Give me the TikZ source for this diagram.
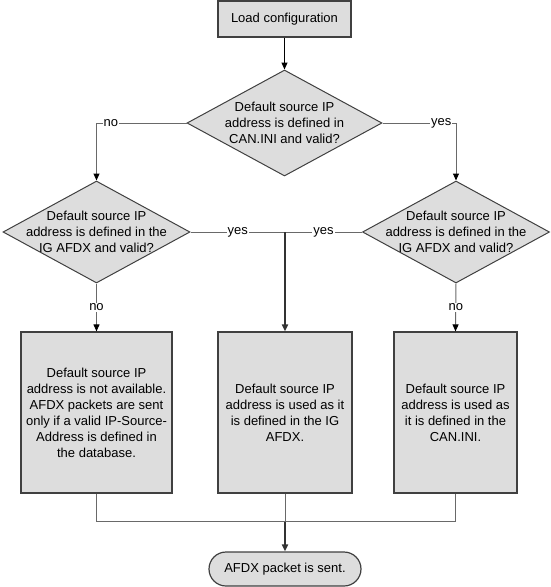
\documentclass[tikz,border=0pt]{standalone}
\usepackage{fontspec}
\setmainfont{Liberation Sans}
\usetikzlibrary{arrows.meta,shapes.geometric}

\definecolor{boxfill}{RGB}{221,221,221}
\definecolor{boxline}{RGB}{64,64,64}
\definecolor{wirecol}{RGB}{105,105,105}

\begin{document}
\begin{tikzpicture}[x=1pt, y=-1pt,
  every node/.style={font=\fontsize{13}{16}\selectfont},
  stepbox/.style={draw=boxline, line width=1.2pt, fill=boxfill, align=center, inner sep=0pt},
  decision/.style={diamond, aspect=1.8, draw=boxline, line width=1pt, fill=boxfill,
    align=center, inner sep=-22pt, minimum width=187pt, minimum height=102pt},
  wire/.style={draw=wirecol, line width=1pt},
  flow/.style={wire, -{Triangle[length=7pt, width=6pt, color=black]}},
  darkflow/.style={draw=black, line width=1pt, -{Triangle[length=7pt, width=6pt]}},
  thickflow/.style={draw=black!80, line width=2pt, -{Triangle[length=7pt, width=6pt]}},
  lbl/.style={fill=white, inner sep=1pt}]

  \useasboundingbox (0,0) rectangle (550,587);

  %% Start and first decision
  \node[stepbox, minimum width=133pt, minimum height=36pt] (load) at (284.5,19) {Load configuration};
  \node[decision, minimum width=195pt, minimum height=106pt] (canini) at (284.5,123)
    {Default source IP\\address is defined in\\CAN.INI and valid?};

  %% Second level decisions
  \node[decision] (igleft) at (96.5,232)
    {Default source IP\\address is defined in the\\IG AFDX and valid?};
  \node[decision] (igright) at (456,232)
    {Default source IP\\address is defined in the\\IG AFDX and valid?};

  %% Result boxes
  \node[stepbox, minimum width=151pt, minimum height=161pt] (noaddr) at (96.5,412.5)
    {Default source IP\\address is not available.\\AFDX packets are sent\\only if a valid IP-Source-\\Address is defined in\\the database.};
  \node[stepbox, minimum width=134pt, minimum height=161pt] (useig) at (285,412.5)
    {Default source IP\\address is used as it\\is defined in the IG\\AFDX.};
  \node[stepbox, minimum width=123pt, minimum height=161pt] (useini) at (455.5,412.5)
    {Default source IP\\address is used as\\it is defined in the\\CAN.INI.};

  %% End
  \node[stepbox, rounded corners=17pt, minimum width=152pt, minimum height=34pt] (sent) at (285,569)
    {AFDX packet is sent.};

  % Connectors from the top
  \draw[darkflow] (load) -- (canini);
  \draw[flow] (canini.west) -| node[lbl, pos=0.42] (no1) {no} (igleft.north);
  \draw[flow] (canini.east) -| node[lbl, pos=0.4] (yes1) {yes} (igright.north);

  % Both yes branches meet in the middle
  \coordinate (join) at (useig |- igleft);
  \draw[wire] (igleft.east) -- node[lbl] (yes2) {yes} (join);
  \draw[wire] (igright.west) -- node[lbl] (yes3) {yes} (join);
  \draw[thickflow] (join) -- (useig.north);

  % no branches
  \draw[flow] (igleft.south) -- node[lbl] (no2) {no} (noaddr.north);
  \draw[flow] (igright.south) -- node[lbl] (no3) {no} (useini.north);

  % Merge into the end
  \path (useig.south) ++(0,28) coordinate (merge);
  \draw[wire] (noaddr.south) -- (noaddr.south |- merge) -- (useini.south |- merge) -- (useini.south);
  \draw[wire] (useig.south) -- (merge);
  \draw[thickflow] (merge) -- (sent.north);

\end{tikzpicture}
\end{document}
